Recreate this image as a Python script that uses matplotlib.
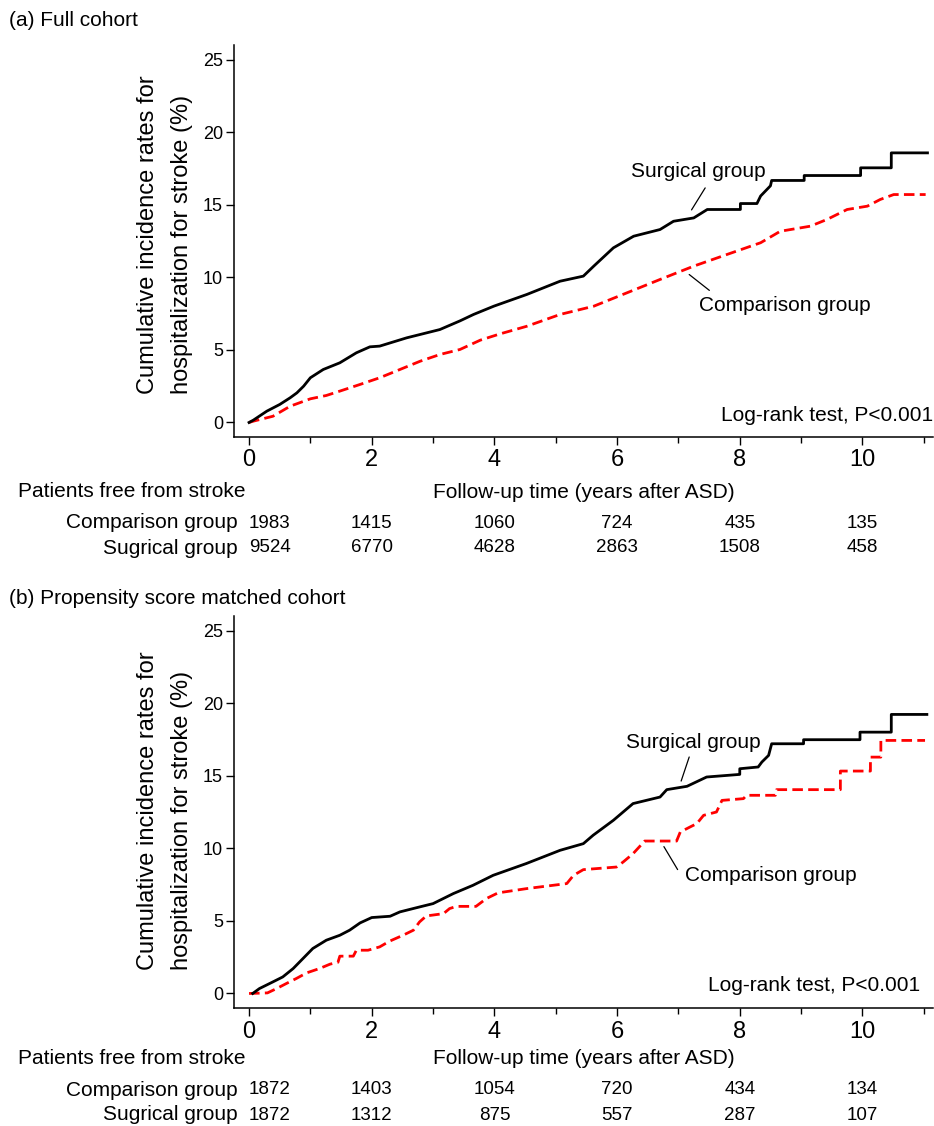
import matplotlib
matplotlib.use("Agg")
import matplotlib.pyplot as plt
import matplotlib.transforms as mtransforms
from matplotlib.ticker import MultipleLocator

plt.rcParams['font.family'] = ['Liberation Sans', 'DejaVu Sans']

# (a) Full cohort: cumulative incidence (%)
full_surg_t = [0.0, 0.07, 0.29, 0.5, 0.67, 0.78, 0.89, 1.0, 1.21, 1.48, 1.75, 1.97, 2.13, 2.57,
               3.11, 3.44, 3.66, 3.99, 4.53, 5.07, 5.45, 5.62, 5.94, 6.27, 6.70, 6.92, 7.25, 7.47,
               8.01, 8.01, 8.28, 8.34, 8.50, 8.52, 9.05, 9.05, 9.97, 9.97, 10.47, 10.47, 11.06]
full_surg_y = [0.0, 0.16, 0.78, 1.24, 1.70, 2.04, 2.50, 3.08, 3.65, 4.11, 4.80, 5.21, 5.26, 5.83,
               6.40, 7.00, 7.44, 8.01, 8.82, 9.73, 10.08, 10.77, 12.03, 12.83, 13.29, 13.86, 14.09, 14.67,
               14.67, 15.08, 15.08, 15.60, 16.30, 16.67, 16.67, 17.01, 17.01, 17.54, 17.54, 18.57, 18.57]

full_comp_t = [0.0, 0.07, 0.39, 0.67, 1.0, 1.26, 1.48, 1.81, 2.13, 2.46, 2.79, 3.11, 3.44, 3.77,
               4.09, 4.53, 5.07, 5.62, 6.16, 6.70, 7.25, 7.79, 8.34, 8.66, 9.15, 9.42, 9.75, 10.08,
               10.29, 10.51, 11.03]
full_comp_y = [0.0, 0.09, 0.43, 1.12, 1.63, 1.86, 2.16, 2.62, 3.08, 3.65, 4.22, 4.68, 5.03, 5.67,
               6.10, 6.63, 7.44, 8.01, 8.93, 9.85, 10.77, 11.57, 12.38, 13.17, 13.52, 13.98, 14.67, 14.90,
               15.36, 15.70, 15.70]

# (b) Propensity score matched cohort
psm_surg_t = [0.06, 0.17, 0.39, 0.55, 0.72, 0.88, 1.04, 1.26, 1.48, 1.64, 1.81, 2.0, 2.3, 2.46,
              2.78, 3.0, 3.33, 3.65, 3.98, 4.52, 5.07, 5.45, 5.61, 5.94, 6.26, 6.7, 6.81, 7.14,
              7.46, 8.0, 8.0, 8.3, 8.36, 8.47, 8.52, 9.04, 9.04, 9.96, 9.96, 10.47, 10.47, 11.05]
psm_surg_y = [0.0, 0.34, 0.80, 1.14, 1.72, 2.41, 3.10, 3.67, 4.01, 4.36, 4.86, 5.23, 5.32, 5.62,
              5.96, 6.19, 6.88, 7.45, 8.14, 8.95, 9.86, 10.32, 10.90, 11.93, 13.08, 13.53, 14.04, 14.27,
              14.91, 15.09, 15.48, 15.60, 15.94, 16.40, 17.20, 17.20, 17.48, 17.48, 18.00, 18.00, 19.22, 19.22]

psm_comp_t = [0.0, 0.30, 0.45, 0.61, 0.77, 0.94, 1.15, 1.32, 1.45, 1.48, 1.70, 1.75, 1.94, 2.13,
              2.29, 2.51, 2.68, 2.78, 2.89, 3.17, 3.27, 3.38, 3.70, 3.87, 4.06, 4.52, 5.18, 5.29,
              5.45, 5.99, 6.10, 6.26, 6.45, 6.97, 7.03, 7.19, 7.30, 7.41, 7.62, 7.71, 8.06, 8.11,
              8.58, 8.60, 9.64, 9.64, 10.13, 10.13, 10.30, 10.30, 11.02]
psm_comp_y = [0.0, 0.04, 0.34, 0.69, 1.03, 1.42, 1.72, 2.02, 2.15, 2.57, 2.57, 2.98, 2.98, 3.21,
              3.60, 4.01, 4.36, 4.93, 5.34, 5.50, 5.85, 6.00, 6.00, 6.54, 6.93, 7.22, 7.57, 8.14,
              8.53, 8.71, 9.06, 9.63, 10.50, 10.50, 11.12, 11.47, 11.70, 12.27, 12.50, 13.30, 13.42, 13.65,
              13.65, 14.04, 14.04, 15.32, 15.32, 16.28, 16.28, 17.43, 17.43]

# numbers at risk
risk_times = [0, 2, 4, 6, 8, 10]
full_comp_risk = [1983, 1415, 1060, 724, 435, 135]
full_surg_risk = [9524, 6770, 4628, 2863, 1508, 458]
psm_comp_risk = [1872, 1403, 1054, 720, 434, 134]
psm_surg_risk = [1872, 1312, 875, 557, 287, 107]

W, H = 934, 1126


def fx(x):
    return x / W


def fy(y):
    return 1 - y / H


fig = plt.figure(figsize=(W / 100, H / 100), dpi=100)


def draw_panel(top, title, title_y, surg_t, surg_y, comp_t, comp_y, comp_risk, surg_risk,
               surg_lab, comp_lab, logrank_xy, rows_y, ylab_bottom):
    bottom = top + 392
    ax = fig.add_axes([fx(234), fy(bottom), fx(933) - fx(234), fy(top) - fy(bottom)])
    ax.plot(comp_t, comp_y, color='#ff0000', lw=2.0, linestyle=(0, (3.8, 1.9)))
    ax.plot(surg_t, surg_y, color='black', lw=2.0)

    ax.set_xlim(-0.245, 11.15)
    ax.set_ylim(-1.0, 26.0)
    for s in ['top', 'right']:
        ax.spines[s].set_visible(False)
    for s in ['left', 'bottom']:
        ax.spines[s].set_linewidth(1.1)
    ax.xaxis.set_major_locator(MultipleLocator(2))
    ax.xaxis.set_minor_locator(MultipleLocator(1))
    ax.yaxis.set_major_locator(MultipleLocator(5))
    ax.tick_params(axis='y', length=6, width=1.0, labelsize=13, pad=2)
    ax.tick_params(axis='x', which='major', length=6, width=1.0, labelsize=17, pad=3)
    ax.tick_params(axis='x', which='minor', length=4, width=1.0)

    # x label sits on the same line as "Patients free from stroke"
    ax.set_xlabel('Follow-up time (years after ASD)', fontsize=15)
    ax.xaxis.set_label_coords(0.5, (rows_y[0] - bottom) / -392.0, transform=ax.transAxes)
    ax.xaxis.label.set_va('center')

    # annotations
    (sx, sy, sx0, sy0, sx1, sy1) = surg_lab
    ax.text(sx, sy, 'Surgical group', fontsize=15, ha='center', va='center')
    ax.annotate('', xy=(sx1, sy1), xytext=(sx0, sy0),
                arrowprops=dict(arrowstyle='-', lw=0.9, color='black'))
    (cx, cy, cx0, cy0, cx1, cy1) = comp_lab
    ax.text(cx, cy, 'Comparison group', fontsize=15, ha='center', va='center')
    ax.annotate('', xy=(cx1, cy1), xytext=(cx0, cy0),
                arrowprops=dict(arrowstyle='-', lw=0.9, color='black'))
    ax.text(logrank_xy[0], logrank_xy[1], 'Log-rank test, P<0.001', fontsize=15,
            ha='right', va='center')

    # title and y label
    fig.text(fx(9), fy(title_y), title, fontsize=15, ha='left', va='center')
    fig.text(fx(147.5), fy(ylab_bottom), 'Cumulative incidence rates for', fontsize=17,
             rotation=90, ha='center', va='bottom')
    fig.text(fx(181.7), fy(ylab_bottom), 'hospitalization for stroke (%)', fontsize=17,
             rotation=90, ha='center', va='bottom')

    # numbers at risk table
    trans = mtransforms.blended_transform_factory(ax.transData, fig.transFigure)
    fig.text(fx(18), fy(rows_y[0]), 'Patients free from stroke', fontsize=15, ha='left', va='center')
    fig.text(fx(238), fy(rows_y[1]), 'Comparison group', fontsize=15, ha='right', va='center')
    fig.text(fx(238), fy(rows_y[2]), 'Sugrical group', fontsize=15, ha='right', va='center')
    for i, t in enumerate(risk_times):
        ha = 'left' if i == 0 else 'center'
        ax.text(t, fy(rows_y[1]), str(comp_risk[i]), transform=trans, fontsize=13.5, ha=ha, va='center')
        ax.text(t, fy(rows_y[2]), str(surg_risk[i]), transform=trans, fontsize=13.5, ha=ha, va='center')
    return ax


draw_panel(45, '(a) Full cohort', 20, full_surg_t, full_surg_y, full_comp_t, full_comp_y,
           full_comp_risk, full_surg_risk,
           (7.32, 17.29, 7.46, 16.32, 7.19, 14.48),
           (8.73, 8.08, 7.54, 8.98, 7.14, 10.31),
           (11.15, 0.48), (492, 523, 548), 394)

draw_panel(616, '(b) Propensity score matched cohort', 598, psm_surg_t, psm_surg_y, psm_comp_t, psm_comp_y,
           psm_comp_risk, psm_surg_risk,
           (7.24, 17.32, 7.19, 16.47, 7.03, 14.45),
           (8.51, 8.14, 7.01, 8.37, 6.74, 10.28),
           (10.94, 0.57), (1058, 1090, 1115), 970)

fig.savefig('out.png', dpi=100, facecolor='white')
